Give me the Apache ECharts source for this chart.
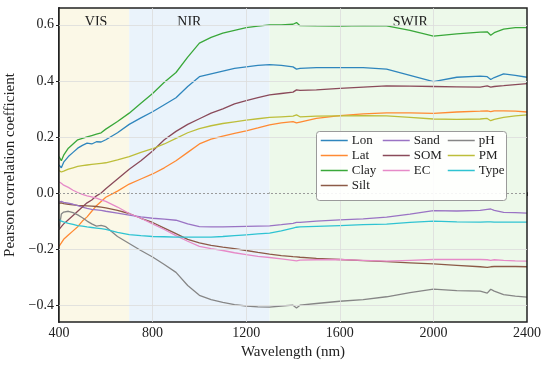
<!DOCTYPE html>
<html><head><meta charset="utf-8">
<script src="https://cdn.jsdelivr.net/npm/echarts@6/dist/echarts.min.js"></script>
<style>html,body{margin:0;padding:0;background:#fff}#c{width:550px;height:368px}</style>
</head><body><div id="c"></div>
<script>
const wavelengths = [400,410,420,440,460,480,500,520,540,560,580,600,650,700,750,800,850,900,950,1000,1050,1100,1150,1200,1250,1300,1350,1400,1415,1430,1500,1600,1700,1800,1900,2000,2100,2200,2230,2245,2260,2300,2350,2400];
const lon  = [0.10,0.09,0.11,0.13,0.145,0.16,0.17,0.178,0.175,0.183,0.182,0.19,0.215,0.245,0.268,0.29,0.315,0.34,0.38,0.415,0.425,0.435,0.445,0.45,0.455,0.458,0.455,0.45,0.442,0.445,0.447,0.447,0.447,0.442,0.42,0.397,0.413,0.417,0.415,0.405,0.412,0.425,0.42,0.413];
const lat  = [-0.19,-0.178,-0.165,-0.15,-0.135,-0.12,-0.1,-0.085,-0.065,-0.045,-0.03,-0.015,0.007,0.032,0.05,0.068,0.09,0.115,0.145,0.175,0.192,0.203,0.213,0.222,0.232,0.243,0.25,0.255,0.25,0.253,0.266,0.276,0.282,0.286,0.286,0.284,0.289,0.292,0.293,0.29,0.293,0.293,0.292,0.289];
const clay = [0.13,0.115,0.135,0.16,0.175,0.19,0.195,0.2,0.205,0.21,0.215,0.228,0.255,0.285,0.32,0.355,0.395,0.43,0.485,0.535,0.555,0.57,0.58,0.59,0.595,0.6,0.6,0.602,0.608,0.597,0.596,0.595,0.597,0.596,0.58,0.56,0.568,0.574,0.575,0.563,0.572,0.585,0.59,0.59];
const silt = [-0.036,-0.035,-0.038,-0.04,-0.042,-0.044,-0.045,-0.046,-0.047,-0.048,-0.05,-0.053,-0.062,-0.073,-0.09,-0.105,-0.125,-0.145,-0.165,-0.178,-0.187,-0.193,-0.198,-0.205,-0.212,-0.218,-0.223,-0.227,-0.228,-0.229,-0.233,-0.237,-0.241,-0.245,-0.249,-0.253,-0.258,-0.263,-0.265,-0.263,-0.262,-0.262,-0.262,-0.263];
const sand = [-0.032,-0.03,-0.033,-0.036,-0.04,-0.045,-0.05,-0.055,-0.058,-0.06,-0.062,-0.065,-0.072,-0.079,-0.085,-0.09,-0.093,-0.097,-0.11,-0.12,-0.121,-0.121,-0.12,-0.119,-0.118,-0.117,-0.113,-0.108,-0.105,-0.105,-0.1,-0.096,-0.092,-0.086,-0.075,-0.063,-0.064,-0.062,-0.058,-0.057,-0.062,-0.069,-0.07,-0.072];
const som  = [-0.13,-0.12,-0.11,-0.095,-0.08,-0.065,-0.05,-0.035,-0.025,-0.01,0.0,0.015,0.05,0.085,0.115,0.15,0.19,0.22,0.245,0.265,0.285,0.3,0.318,0.33,0.34,0.35,0.355,0.36,0.368,0.366,0.368,0.373,0.378,0.382,0.381,0.38,0.379,0.378,0.382,0.378,0.38,0.383,0.387,0.39];
const ec   = [0.04,0.035,0.028,0.02,0.01,0.002,-0.005,-0.01,-0.014,-0.018,-0.024,-0.03,-0.05,-0.073,-0.09,-0.11,-0.13,-0.152,-0.172,-0.19,-0.198,-0.205,-0.213,-0.22,-0.226,-0.23,-0.235,-0.24,-0.242,-0.239,-0.238,-0.237,-0.24,-0.243,-0.24,-0.237,-0.237,-0.237,-0.238,-0.24,-0.238,-0.24,-0.242,-0.243];
const ph   = [-0.13,-0.075,-0.068,-0.065,-0.07,-0.078,-0.088,-0.1,-0.11,-0.118,-0.115,-0.12,-0.155,-0.18,-0.205,-0.228,-0.255,-0.283,-0.33,-0.365,-0.38,-0.39,-0.398,-0.403,-0.406,-0.407,-0.403,-0.4,-0.41,-0.4,-0.394,-0.386,-0.38,-0.37,-0.355,-0.343,-0.348,-0.35,-0.357,-0.343,-0.35,-0.362,-0.368,-0.371];
const pm   = [0.08,0.075,0.078,0.085,0.09,0.095,0.098,0.1,0.102,0.104,0.106,0.108,0.118,0.13,0.145,0.158,0.175,0.195,0.215,0.23,0.24,0.248,0.254,0.26,0.265,0.27,0.272,0.274,0.279,0.272,0.274,0.275,0.276,0.275,0.27,0.264,0.263,0.264,0.266,0.258,0.263,0.27,0.275,0.279];
const type = [-0.095,-0.1,-0.103,-0.108,-0.112,-0.116,-0.118,-0.121,-0.123,-0.125,-0.127,-0.13,-0.14,-0.148,-0.152,-0.155,-0.156,-0.157,-0.157,-0.157,-0.157,-0.155,-0.152,-0.149,-0.146,-0.143,-0.135,-0.125,-0.122,-0.121,-0.119,-0.116,-0.113,-0.111,-0.105,-0.1,-0.103,-0.104,-0.103,-0.103,-0.104,-0.104,-0.104,-0.104];

const seriesNames = ['Lon','Lat','Clay','Silt','Sand','SOM','EC','pH','PM','Type'];
const seriesValues = [lon,lat,clay,silt,sand,som,ec,ph,pm,type];
const seriesColors = ['#2f86bd','#ff8a33','#3aa83a','#8c5a47','#9a73c4','#8a4a5a','#e68ac8','#868686','#bdbe3a','#2fc3d2'];
const bands = [['VIS',400,700],['NIR',700,1300],['SWIR',1300,2400]];
const bandColors = ['#fbf8e7','#eaf3fb','#edf9ea'];
const bandLabelOffsets = [[2,0],[-10,0],[12,0]];
const xTicks = [400,800,1200,1600,2000,2400];
const yTicks = [-0.4,-0.2,0.0,0.2,0.4,0.6];

const FONT = 'Liberation Serif';
const chart = echarts.init(document.getElementById('c'), null, {renderer:'canvas'});

const fmt = v => (Math.abs(v) < 1e-9 ? '0.0' : v.toFixed(1).replace('-', '\u2212'));

const series = [];
series.push({
  type:'line', name:'bands', data:[], silent:true, z:0,
  markArea:{
    silent:true,
    data: bands.map((b,i)=>[
      {xAxis:b[1], yAxis:-0.46, itemStyle:{color:bandColors[i]},
       label:{show:true, formatter:b[0], position:'insideTop', distance:7, offset:bandLabelOffsets[i],
              fontFamily:FONT, fontSize:14, color:'#222'}},
      {xAxis:b[2], yAxis:0.66}
    ])
  }
});
series.push({
  type:'line', name:'grid', data:[], silent:true, z:1,
  markLine:{
    silent:true, symbol:'none', label:{show:false},
    data: [
      ...xTicks.slice(1,-1).map(v=>({xAxis:v, lineStyle:{color:'#dcdcdc', width:0.8, type:'solid'}})),
      ...yTicks.filter(v=>Math.abs(v)>1e-9).map(v=>({yAxis:v, lineStyle:{color:'#dcdcdc', width:0.8, type:'solid'}})),
      {yAxis:0, lineStyle:{color:'#9a9a9a', width:1, type:[2,2]}}
    ]
  }
});
seriesNames.forEach((n,i)=>{
  series.push({
    type:'line', name:n, symbol:'none', z:3,
    data: wavelengths.map((w,k)=>[w, seriesValues[i][k]]),
    lineStyle:{width:1.3, color:seriesColors[i]},
    itemStyle:{color:seriesColors[i]},
    emphasis:{disabled:true}
  });
});

const legendCommon = {
  orient:'vertical', itemWidth:27, itemHeight:14, itemGap:2, selectedMode:false,
  itemStyle:{opacity:0},
  lineStyle:{width:1.5},
  textStyle:{fontFamily:FONT, fontSize:13, color:'#222', padding:[0,0,0,-1]},
  padding:0
};

chart.setOption({
  animation:false,
  backgroundColor:'#fff',
  grid:{left:59, right:23, top:8, bottom:46, show:true, borderColor:'#222', borderWidth:1.5,
        backgroundColor:'transparent', z:5, containLabel:false, outerBoundsMode:'none'},
  xAxis:{
    type:'value', min:400, max:2400, interval:400,
    name:'Wavelength (nm)', nameLocation:'middle', nameGap:21,
    nameTextStyle:{fontFamily:FONT, fontSize:15, color:'#222'},
    axisLine:{show:true, lineStyle:{color:'#222', width:2}},
    axisTick:{show:true, length:3, lineStyle:{color:'#222'}},
    axisLabel:{fontFamily:FONT, fontSize:14, color:'#222', margin:4, formatter:v=>String(v)},
    splitLine:{show:false}
  },
  yAxis:{
    type:'value', min:-0.46, max:0.66,
    name:'Pearson correlation coefficient', nameLocation:'middle', nameGap:39,
    nameTextStyle:{fontFamily:FONT, fontSize:15, color:'#222'},
    axisLine:{show:true, lineStyle:{color:'#222', width:2}},
    axisTick:{show:true, length:3, customValues:yTicks, lineStyle:{color:'#222'}},
    axisLabel:{fontFamily:FONT, fontSize:14, color:'#222', margin:5, customValues:yTicks, formatter:fmt},
    splitLine:{show:false}
  },
  graphic:[{
    type:'rect', left:316, top:131, z:10,
    shape:{width:190, height:69, r:3},
    style:{fill:'rgba(255,255,255,0.9)', stroke:'#9a9a9a', lineWidth:1}
  }],
  legend:[
    Object.assign({left:320, top:134, data:['Lon','Lat','Clay','Silt'], z:20}, legendCommon),
    Object.assign({left:382, top:134, data:['Sand','SOM','EC'], z:20}, legendCommon),
    Object.assign({left:447, top:134, data:['pH','PM','Type'], z:20}, legendCommon)
  ],
  series:series
});
</script>
</body></html>
